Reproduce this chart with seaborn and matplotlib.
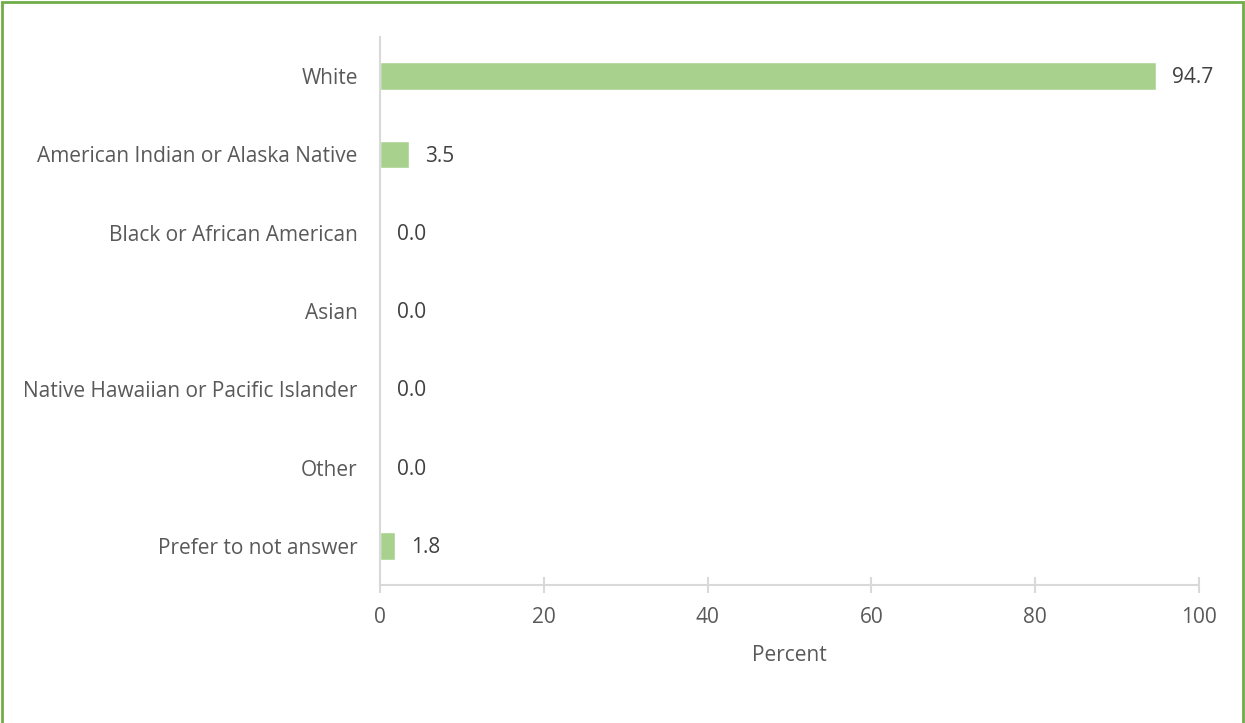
import pandas as pd
import matplotlib.pyplot as plt
import seaborn as sns
from matplotlib.patches import Rectangle

# Data
categories = ['White', 'American Indian or Alaska Native', 'Black or African American',
              'Asian', 'Native Hawaiian or Pacific Islander', 'Other', 'Prefer to not answer']
percent = [94.7, 3.5, 0.0, 0.0, 0.0, 0.0, 1.8]
xticks = [0, 20, 40, 60, 80, 100]

df = pd.DataFrame({'category': categories, 'percent': percent})

sns.set_style('white')
plt.rcParams['font.family'] = ['Open Sans', 'DejaVu Sans']

text_col = '#595959'
grid_col = '#D9D9D9'
bar_col = '#A9D18E'

fig = plt.figure(figsize=(12.45, 7.23), dpi=100)
ax = fig.add_axes([0.3052, 0.1909, 0.963 - 0.3052, 0.9488 - 0.1909])

sns.barplot(data=df, y='category', x='percent', orient='h', color=bar_col,
            width=0.35, saturation=1, ax=ax)

for i, v in enumerate(percent):
    ax.annotate(f'{v:.1f}', xy=(v, i + 0.02), xytext=(12, 0), textcoords='offset points',
                ha='left', va='center', fontsize=15, color='#404040')

ax.set_xlim(0, 100)
ax.set_ylim(6.5, -0.5)
ax.set_xticks(xticks)
ax.set_xlabel('Percent', fontsize=15, color=text_col, labelpad=12)
ax.set_ylabel('')

for s in ['top', 'right']:
    ax.spines[s].set_visible(False)
for s in ['left', 'bottom']:
    ax.spines[s].set_color(grid_col)
    ax.spines[s].set_linewidth(1.5)

ax.tick_params(axis='x', direction='inout', length=12, width=1.5, color=grid_col,
               labelsize=15, labelcolor=text_col, pad=10, bottom=True)
ax.tick_params(axis='y', length=0, labelsize=15, labelcolor=text_col, pad=16)

# Green frame around the figure
fig.patches.append(Rectangle((0.002, -0.01), 0.996, 1.007, transform=fig.transFigure,
                             fill=False, edgecolor='#70AD47', linewidth=2))

fig.savefig('out.png', dpi=100)
